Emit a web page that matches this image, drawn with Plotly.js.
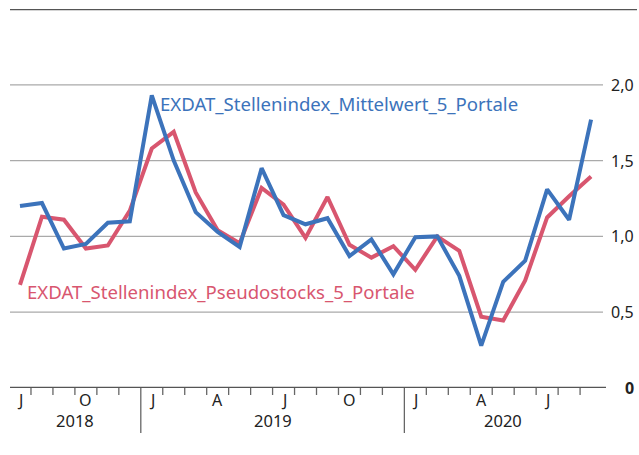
<!DOCTYPE html>
<html>
<head>
<meta charset="utf-8">
<script src="https://cdn.plot.ly/plotly-3.0.1.min.js"></script>
<style>
html,body{margin:0;padding:0;background:#fff;}
#chart{width:639px;height:455px;}
</style>
</head>
<body>
<div id="chart"></div>
<script>
// Months Jul 2018 .. Sep 2020
const months = ["2018-07","2018-08","2018-09","2018-10","2018-11","2018-12",
  "2019-01","2019-02","2019-03","2019-04","2019-05","2019-06","2019-07","2019-08","2019-09","2019-10","2019-11","2019-12",
  "2020-01","2020-02","2020-03","2020-04","2020-05","2020-06","2020-07","2020-08","2020-09"];
const mittelwert = [1.20,1.22,0.92,0.95,1.09,1.10,1.93,1.50,1.16,1.03,0.93,1.45,1.14,1.08,1.12,0.87,0.98,0.75,
  0.995,1.00,0.74,0.28,0.70,0.84,1.31,1.11,1.77];
const pseudostocks = [0.68,1.13,1.11,0.92,0.94,1.17,1.58,1.69,1.29,1.04,0.955,1.32,1.21,0.99,1.26,0.945,0.86,0.935,
  0.78,1.00,0.905,0.47,0.445,0.71,1.125,1.265,1.395];
const monthLetters = {"01":"J","04":"A","07":"J","10":"O"};
const years = ["2018","2019","2020"];
const yTicks = [0, 0.5, 1.0, 1.5, 2.0];
const seriesNames = ["EXDAT_Stellenindex_Mittelwert_5_Portale","EXDAT_Stellenindex_Pseudostocks_5_Portale"];

const blue = "#3c73bb", red = "#d8566f";
const font = "Noto Sans, Open Sans, sans-serif";
const idx = months.map((m,i)=>i);

const W = 639, H = 455, L = 10, R = 33, T = 9, B = 67;
const plotW = W - L - R, plotH = H - T - B;
const xmin = -0.455, xmax = 26.68;
const px2paperX = p => (p - L) / plotW;
const px2paperY = p => (H - B - p) / plotH; // p = page y

const traces = [
  {x: idx, y: pseudostocks, type:"scatter", mode:"lines", line:{color:red, width:4}, hoverinfo:"skip"},
  {x: idx, y: mittelwert, type:"scatter", mode:"lines", line:{color:blue, width:4}, hoverinfo:"skip"}
];

const shapes = [];
const annotations = [];
// gridlines
yTicks.filter(v=>v>0).forEach(v=>{
  shapes.push({type:"line", xref:"paper", yref:"y", x0:0, x1:px2paperX(603), y0:v, y1:v,
    line:{color:"#aaaaaa", width:1.3}, layer:"below"});
});
// top line
shapes.push({type:"line", xref:"paper", yref:"y", x0:0, x1:px2paperX(637), y0:2.5, y1:2.5,
  line:{color:"#555555", width:2.5}});
// axis line
shapes.push({type:"line", xref:"paper", yref:"y", x0:0, x1:1, y0:0, y1:0,
  line:{color:"#555555", width:2.5}});
// month ticks
for (let i=0;i<months.length-1;i++){
  const yearBoundary = months[i+1].endsWith("-01");
  shapes.push({type:"line", xref:"x", yref:"paper", x0:i+0.5, x1:i+0.5,
    y0:px2paperY(388), y1:px2paperY(yearBoundary?433:395),
    line:{color:"#666666", width:1.3}});
}
// month labels
months.forEach((m,i)=>{
  const mm = m.slice(5);
  if (monthLetters[mm]) {
    annotations.push({xref:"x", yref:"paper", x:i, y:px2paperY(400), text:monthLetters[mm],
      showarrow:false, xanchor:"center", yanchor:"middle", font:{family:font, size:16, color:"#222"}});
  }
});
// year labels
years.forEach(yr=>{
  const ids = idx.filter(i=>months[i].startsWith(yr));
  const c = (ids[0] + ids[ids.length-1]) / 2;
  annotations.push({xref:"x", yref:"paper", x:c, y:px2paperY(420), text:yr,
    showarrow:false, xanchor:"center", yanchor:"middle", font:{family:font, size:16.5, color:"#222"}});
});
// y labels
yTicks.forEach(v=>{
  const t = v===0 ? "<b>0</b>" : v.toFixed(1).replace(".", ",");
  annotations.push({xref:"paper", yref:"y", x:px2paperX(636), y:v, text:t, showarrow:false,
    xanchor:"right", yanchor:"middle", font:{family:font, size:16, color:"#222"}});
});
// series labels
annotations.push({xref:"paper", yref:"paper", x:px2paperX(158), y:px2paperY(103), text:seriesNames[0],
  showarrow:false, xanchor:"left", yanchor:"middle", font:{family:font, size:18.6, color:blue}});
annotations.push({xref:"paper", yref:"paper", x:px2paperX(25), y:px2paperY(291), text:seriesNames[1],
  showarrow:false, xanchor:"left", yanchor:"middle", font:{family:font, size:18.6, color:red}});

const layout = {
  width:W, height:H, margin:{l:L, r:R, t:T, b:B, pad:0},
  paper_bgcolor:"#fff", plot_bgcolor:"#fff", showlegend:false,
  xaxis:{range:[xmin,xmax], showgrid:false, zeroline:false, showline:false, showticklabels:false, ticks:"", fixedrange:true},
  yaxis:{range:[0,2.5], showgrid:false, zeroline:false, showline:false, showticklabels:false, ticks:"", fixedrange:true},
  shapes:shapes, annotations:annotations
};
Plotly.newPlot("chart", traces, layout, {staticPlot:true, displayModeBar:false});
</script>
</body>
</html>
